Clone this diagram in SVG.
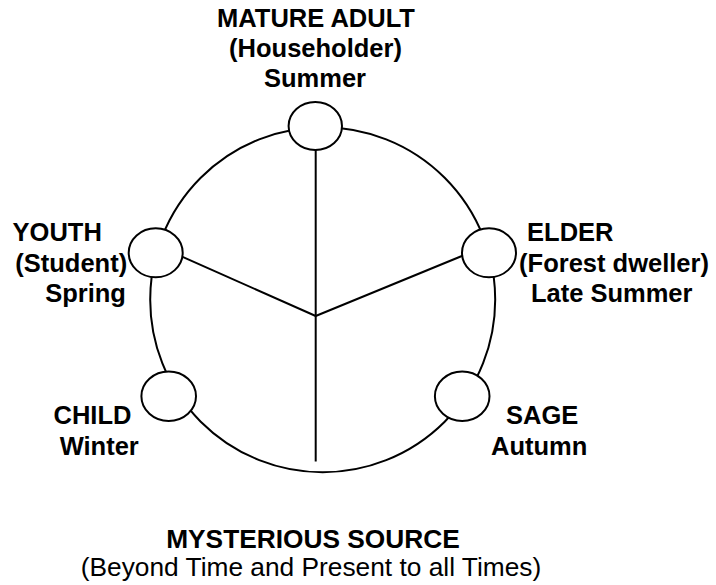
<svg xmlns="http://www.w3.org/2000/svg" width="716" height="585" viewBox="0 0 716 585">
<style>
.ln{fill:none;stroke:#000;stroke-width:2}
.nd{fill:#fff;stroke:#000;stroke-width:2}
text{font-family:"Liberation Sans",Arial,sans-serif;font-size:25.5px;fill:#000;text-anchor:middle}
.b{font-weight:bold}
.s{font-size:26.3px}
</style>
<rect width="716" height="585" fill="#fff"/>
<g id="connectors">
<circle class="ln" cx="322.7" cy="299.7" r="172.5"/>
<line class="ln" x1="315.7" y1="150" x2="315.7" y2="461.5"/>
<line class="ln" x1="182" y1="256.7" x2="315.7" y2="316"/>
<line class="ln" x1="462.5" y1="255.7" x2="315.7" y2="316"/>
</g>
<g id="mature-adult">
<ellipse class="nd" cx="315.3" cy="126" rx="26.7" ry="24"/>
<text class="b" x="316" y="26.7">MATURE ADULT</text>
<text class="b" x="315.5" y="56.8">(Householder)</text>
<text class="b" x="315" y="87.2">Summer</text>
</g>
<g id="youth">
<ellipse class="nd" cx="155.7" cy="252.8" rx="27" ry="24.5"/>
<text class="b" x="57.2" y="240.7">YOUTH</text>
<text class="b" x="71.2" y="271.7">(Student)</text>
<text class="b" x="85.5" y="301.7">Spring</text>
</g>
<g id="elder">
<ellipse class="nd" cx="489" cy="252.8" rx="27" ry="24.5"/>
<text class="b" x="570.3" y="240.7">ELDER</text>
<text class="b" x="614" y="271.7">(Forest dweller)</text>
<text class="b" x="611.7" y="301.7">Late Summer</text>
</g>
<g id="child">
<ellipse class="nd" cx="168.7" cy="396.3" rx="27.3" ry="24.7"/>
<text class="b" x="92.5" y="424">CHILD</text>
<text class="b" x="99.2" y="455">Winter</text>
</g>
<g id="sage">
<ellipse class="nd" cx="462.2" cy="396.3" rx="27.3" ry="24.7"/>
<text class="b" x="542.2" y="424">SAGE</text>
<text class="b" x="539.2" y="455">Autumn</text>
</g>
<g id="mysterious-source">
<text class="b s" x="313" y="548">MYSTERIOUS SOURCE</text>
<text class="s" x="311" y="576">(Beyond Time and Present to all Times)</text>
</g>
</svg>
